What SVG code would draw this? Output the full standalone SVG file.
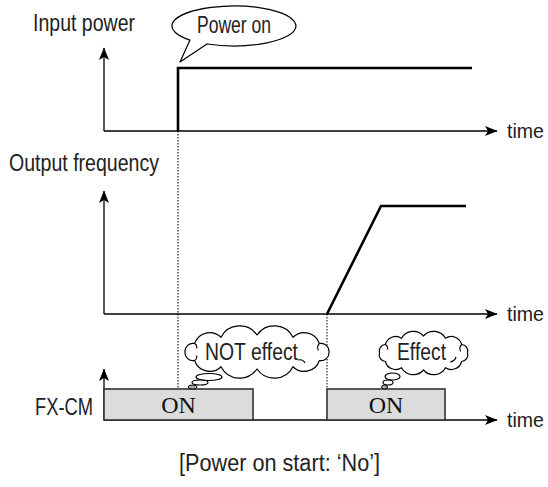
<svg xmlns="http://www.w3.org/2000/svg" width="548" height="487" viewBox="0 0 548 487">
<style>
.lbl{font-family:"Liberation Sans Narrow","Liberation Sans",Arial,sans-serif;font-size:23px;fill:#222}
.tm{font-family:"Liberation Sans Narrow","Liberation Sans",Arial,sans-serif;font-size:20px;fill:#222}
.on{font-family:"Liberation Serif","Times New Roman",serif;font-size:24px;fill:#111}
.axis{stroke:#000;stroke-width:1.3;fill:none}
.sig{stroke:#000;stroke-width:2.6;fill:none;stroke-linejoin:miter}
.dot{stroke:#000;stroke-width:1;stroke-dasharray:1.5 1.5;fill:none}
.cloud{fill:#fff;stroke:#000;stroke-width:1.2;stroke-linejoin:round}
.curl{fill:none;stroke:#000;stroke-width:1.1}
.box{fill:#dcdcdc;stroke:#333;stroke-width:1.6}
</style>
<defs>
<marker id="arr" markerUnits="userSpaceOnUse" markerWidth="14" markerHeight="11" refX="12" refY="5" orient="auto">
<path d="M0,0 L12.5,5 L0,10 L3,5 Z" fill="#000"/>
</marker>
</defs>
<rect width="548" height="487" fill="#fff"/>

<g id="connectors">
<line class="dot" x1="178" y1="131" x2="178" y2="389"/>
<line class="dot" x1="327" y1="314" x2="327" y2="389"/>
<path class="axis" d="M104,131 V48" marker-end="url(#arr)"/>
<path class="axis" d="M104,131 H497" marker-end="url(#arr)"/>
<path class="axis" d="M104,314 V191" marker-end="url(#arr)"/>
<path class="axis" d="M104,314 H497" marker-end="url(#arr)"/>
<path class="axis" d="M104,420 V369" marker-end="url(#arr)"/>
<path class="axis" d="M104,420 H497" marker-end="url(#arr)"/>
<path class="sig" d="M178,131 V68 H472"/>
<path class="sig" d="M327,314 L381,206 H466"/>
</g>

<g id="input-power">
<text class="lbl" x="33" y="31" textLength="102" lengthAdjust="spacingAndGlyphs">Input power</text>
<text class="tm" x="507" y="138" textLength="37" lengthAdjust="spacingAndGlyphs">time</text>
</g>

<g id="power-on-callout">
<path class="cloud" d="M190,40.1 L180,62 L207,44 A62,20 0 1 0 190,40.1 Z"/>
<text class="lbl" x="197" y="33" font-size="21" textLength="74" lengthAdjust="spacingAndGlyphs">Power on</text>
</g>

<g id="output-frequency">
<text class="lbl" x="9" y="171" textLength="150" lengthAdjust="spacingAndGlyphs">Output frequency</text>
<text class="tm" x="507" y="321" textLength="37" lengthAdjust="spacingAndGlyphs">time</text>
</g>

<g id="fx-cm">
<text class="lbl" x="35" y="415" textLength="58" lengthAdjust="spacingAndGlyphs">FX-CM</text>
<text class="tm" x="507" y="427" textLength="37" lengthAdjust="spacingAndGlyphs">time</text>
</g>

<g id="on-box-1">
<rect class="box" x="104" y="389" width="149" height="31"/>
<text class="on" x="178.5" y="412.5" text-anchor="middle">ON</text>
</g>

<g id="on-box-2">
<rect class="box" x="327" y="389" width="118" height="31"/>
<text class="on" x="386" y="412.5" text-anchor="middle">ON</text>
</g>

<g id="not-effect-cloud">
<path class="cloud" d="M185,352 A8,8 0 0 1 194.6,343.5 A16,16 0 0 1 221,337.3 A21,21 0 0 1 257,335 A21,21 0 0 1 293,337.3 A16,16 0 0 1 319.4,343.5 A8,8 0 0 1 329,352 A8,8 0 0 1 319.4,360.5 A16,16 0 0 1 293,366.7 A21,21 0 0 1 257,369 A21,21 0 0 1 221,366.7 A16,16 0 0 1 194.6,360.5 A8,8 0 0 1 185,352 Z"/>
<path class="curl" d="M194.6,343.5 q3,2 2,5 M194.6,360.5 q3,-2 2,-5 M298,360 q5,-1 7,3 M319.4,343.5 q-3,3 -1,7"/>
<ellipse class="cloud" cx="209" cy="377" rx="13" ry="3.5"/>
<ellipse class="cloud" cx="200" cy="382.5" rx="8" ry="2.5"/>
<ellipse cx="192.5" cy="387" rx="4.5" ry="2" fill="#aaa" stroke="#000" stroke-width="1"/>
<text class="lbl" x="205" y="360" textLength="93" lengthAdjust="spacingAndGlyphs">NOT effect</text>
</g>

<g id="effect-cloud">
<path class="cloud" d="M379.5,353 A6.5,6.5 0 0 1 385.4,344.5 A10.5,10.5 0 0 1 401.5,338.3 A13.5,13.5 0 0 1 423.5,336 A13.5,13.5 0 0 1 445.5,338.3 A10.5,10.5 0 0 1 461.6,344.5 A6.5,6.5 0 0 1 467.5,353 A6.5,6.5 0 0 1 461.6,361.5 A10.5,10.5 0 0 1 445.5,367.7 A13.5,13.5 0 0 1 423.5,370 A13.5,13.5 0 0 1 401.5,367.7 A10.5,10.5 0 0 1 385.4,361.5 A6.5,6.5 0 0 1 379.5,353 Z"/>
<path class="curl" d="M385.4,344.5 q3,2 2,5 M450,362 q5,-1 6,-5 M461.6,344.5 q-3,3 -1,7"/>
<ellipse class="cloud" cx="392.5" cy="376.5" rx="7.5" ry="3.5"/>
<ellipse class="cloud" cx="388" cy="382.5" rx="5" ry="2.5"/>
<ellipse cx="384.5" cy="387" rx="3" ry="2" fill="#aaa" stroke="#000" stroke-width="1"/>
<text class="lbl" x="397" y="360" textLength="49" lengthAdjust="spacingAndGlyphs">Effect</text>
</g>

<g id="caption">
<text class="lbl" x="279.5" y="471" text-anchor="middle" textLength="201" lengthAdjust="spacingAndGlyphs">[Power on start: ‘No’]</text>
</g>
</svg>
